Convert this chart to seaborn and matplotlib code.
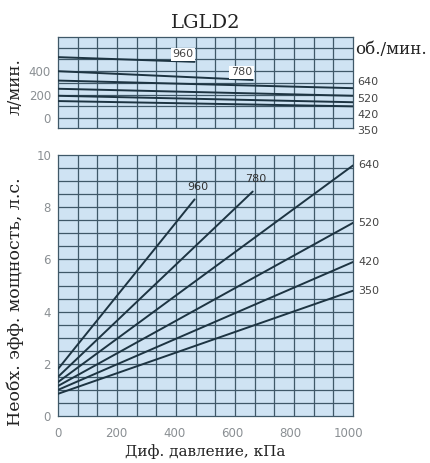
import numpy as np
import pandas as pd
import matplotlib
matplotlib.use("Agg")
import matplotlib.pyplot as plt
import seaborn as sns

sns.set_style("white")
plt.rcParams["font.family"] = ["DejaVu Sans"]

# Pump LGLD2: flow and required shaft power vs differential pressure
speeds = [960, 780, 640, 520, 420, 350]           # rpm
p_end = [470, 670, 1015, 1015, 1015, 1015]         # kPa, last point of each curve
flow_start = [520, 400, 320, 250, 190, 145]        # l/min at 0 kPa
flow_end = [480, 325, 255, 190, 135, 100]          # l/min at p_end
power_start = [1.8, 1.5, 1.3, 1.15, 1.0, 0.85]     # hp at 0 kPa
power_end = [8.3, 8.6, 9.6, 7.4, 5.9, 4.8]         # hp at p_end

x_ticks = [0, 200, 400, 600, 800, 1000]
flow_ticks = [0, 200, 400]
power_ticks = [0, 2, 4, 6, 8, 10]

rows = []
for s, pe, f0, f1, w0, w1 in zip(speeds, p_end, flow_start, flow_end,
                                  power_start, power_end):
    rows.append({"rpm": s, "p": 0, "flow": f0, "power": w0})
    rows.append({"rpm": s, "p": pe, "flow": f1, "power": w1})
df = pd.DataFrame(rows)

W, H = 430, 463
fig = plt.figure(figsize=(W / 100, H / 100), dpi=100)

def frac_rect(x0, y0, x1, y1):
    return [x0 / W, 1 - y1 / H, (x1 - x0) / W, (y1 - y0) / H]

bg = "#cfe3f3"
grid_c = "#3f5868"
line_c = "#1d3442"
tick_c = "#8a8f93"
serif = ["DejaVu Serif"]
text_c = "#222222"

ax_top = fig.add_axes(frac_rect(58, 37, 353, 128))
ax_bot = fig.add_axes(frac_rect(58, 155, 353, 416))

xmax = 1015
xgrid = np.linspace(0, xmax, 16)

for ax in (ax_top, ax_bot):
    ax.set_facecolor(bg)
    ax.set_xlim(0, xmax)
    for xv in xgrid[1:-1]:
        ax.axvline(xv, color=grid_c, lw=0.9, zorder=1)
    for sp in ax.spines.values():
        sp.set_color(grid_c)
        sp.set_linewidth(0.9)
    ax.tick_params(length=0, labelsize=8.5, labelcolor=tick_c, pad=5)

# top panel: flow
ax_top.set_ylim(-85, 692)
for yv in range(0, 700, 100):
    ax_top.axhline(yv, color=grid_c, lw=0.9, zorder=1)
sns.lineplot(data=df, x="p", y="flow", units="rpm", estimator=None,
             color=line_c, lw=1.4, ax=ax_top, zorder=3, legend=False)
ax_top.set_yticks(flow_ticks)
ax_top.set_xticks([])
ax_top.set_xlabel("")
ax_top.set_ylabel("л/мин.", family=serif, fontsize=12, color=text_c)
ax_top.yaxis.set_label_coords((15 - 58) / 295, (128 - 87) / 91)
ax_top.yaxis.label.set_va("center")
for s, pe, f1 in zip(speeds[:2], p_end[:2], flow_end[:2]):
    ax_top.text(pe - 3, f1 + 22, str(s), ha="right", va="bottom", fontsize=8,
                color="#444444", zorder=4,
                bbox=dict(boxstyle="square,pad=0.15", fc="white", ec="none"))

# bottom panel: power
ax_bot.set_ylim(0, 10)
for yv in np.arange(0.5, 10, 0.5):
    ax_bot.axhline(yv, color=grid_c, lw=0.9, zorder=1)
sns.lineplot(data=df, x="p", y="power", units="rpm", estimator=None,
             color=line_c, lw=1.4, ax=ax_bot, zorder=3, legend=False)
ax_bot.set_yticks(power_ticks)
ax_bot.set_xticks(x_ticks)
ax_bot.tick_params(axis="x", pad=8)
ax_bot.set_xlabel("Диф. давление, кПа", family=serif, fontsize=11,
                  color=text_c)
ax_bot.xaxis.set_label_coords((205 - 58) / 295, (416 - 452) / 261)
ax_bot.xaxis.label.set_va("center")
ax_bot.set_ylabel("Необх. эфф. мощность, л.с.", family=serif, fontsize=12.5,
                  color=text_c)
ax_bot.yaxis.set_label_coords((15 - 58) / 295, (416 - 302) / 261)
ax_bot.yaxis.label.set_va("center")
for s, pe, w1 in zip(speeds, p_end, power_end):
    if pe < xmax:
        ax_bot.text(pe + 10, w1 + 0.3, str(s), ha="center", va="bottom",
                    fontsize=8, color="#333333", zorder=4)
    else:
        ax_bot.text(pe + 18, w1, str(s), ha="left", va="center",
                    fontsize=8, color="#444444", clip_on=False)

# speed legend column beside the flow panel
fig.text(355 / W, 1 - 50 / H, "об./мин.", family=serif, fontsize=12,
         color=text_c, ha="left", va="center")
for s, ypx in zip(speeds[2:], [82, 99, 115, 131]):
    fig.text(357 / W, 1 - ypx / H, str(s), fontsize=8, color="#444444",
             ha="left", va="center")

fig.text(206 / W, 1 - 23 / H, "LGLD2", family=serif, fontsize=14,
         color=text_c, ha="center", va="center")

fig.savefig("out.png", dpi=100)
